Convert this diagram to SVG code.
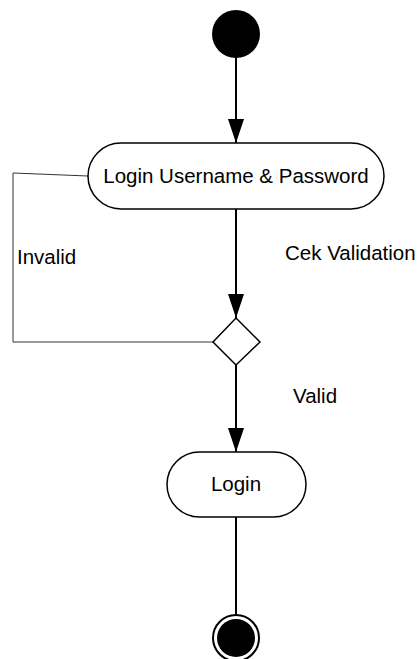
<svg xmlns="http://www.w3.org/2000/svg" width="418" height="659" viewBox="0 0 418 659">
<style>
.node{fill:#fff;stroke:#000;stroke-width:1.5}
.lbl{font-family:"Liberation Sans",Arial,sans-serif;font-size:20.5px;fill:#000}
.edge{stroke:#000;stroke-width:2;fill:none}
.loop{stroke:#333;stroke-width:1;fill:none}
</style>
<defs>
<marker id="arr" markerUnits="userSpaceOnUse" markerWidth="24" markerHeight="16" refX="24" refY="8" orient="auto" viewBox="0 0 24 16">
<path d="M0,0 L24,8 L0,16 z" fill="#000"/>
</marker>
</defs>
<rect width="418" height="659" fill="#fff"/>
<g id="connectors">
<line class="edge" x1="236" y1="58" x2="236" y2="143" marker-end="url(#arr)"/>
<line class="edge" x1="236" y1="209" x2="236" y2="318" marker-end="url(#arr)"/>
<line class="edge" x1="236" y1="365" x2="236" y2="452" marker-end="url(#arr)"/>
<line class="edge" x1="236" y1="517" x2="236" y2="614"/>
<polyline class="loop" points="88,176 13,173 13,342 213,342"/>
<text class="lbl" x="285" y="260">Cek Validation</text>
<text class="lbl" x="17" y="264">Invalid</text>
<text class="lbl" x="293" y="403">Valid</text>
</g>
<g id="start">
<circle cx="236" cy="34" r="24" fill="#000"/>
</g>
<g id="loginUserPass">
<rect class="node" x="88" y="143" width="296" height="66" rx="33" ry="33"/>
<text class="lbl" x="236" y="183" text-anchor="middle">Login Username &amp; Password</text>
</g>
<g id="decision">
<polygon class="node" points="236,318 260,342 236,365 213,342"/>
</g>
<g id="login">
<rect class="node" x="167" y="452" width="139" height="65" rx="32.5" ry="32.5"/>
<text class="lbl" x="236" y="491" text-anchor="middle">Login</text>
</g>
<g id="end">
<circle cx="236" cy="638" r="23" fill="#fff" stroke="#000" stroke-width="2"/>
<circle cx="236" cy="638" r="19" fill="#000"/>
</g>
</svg>
